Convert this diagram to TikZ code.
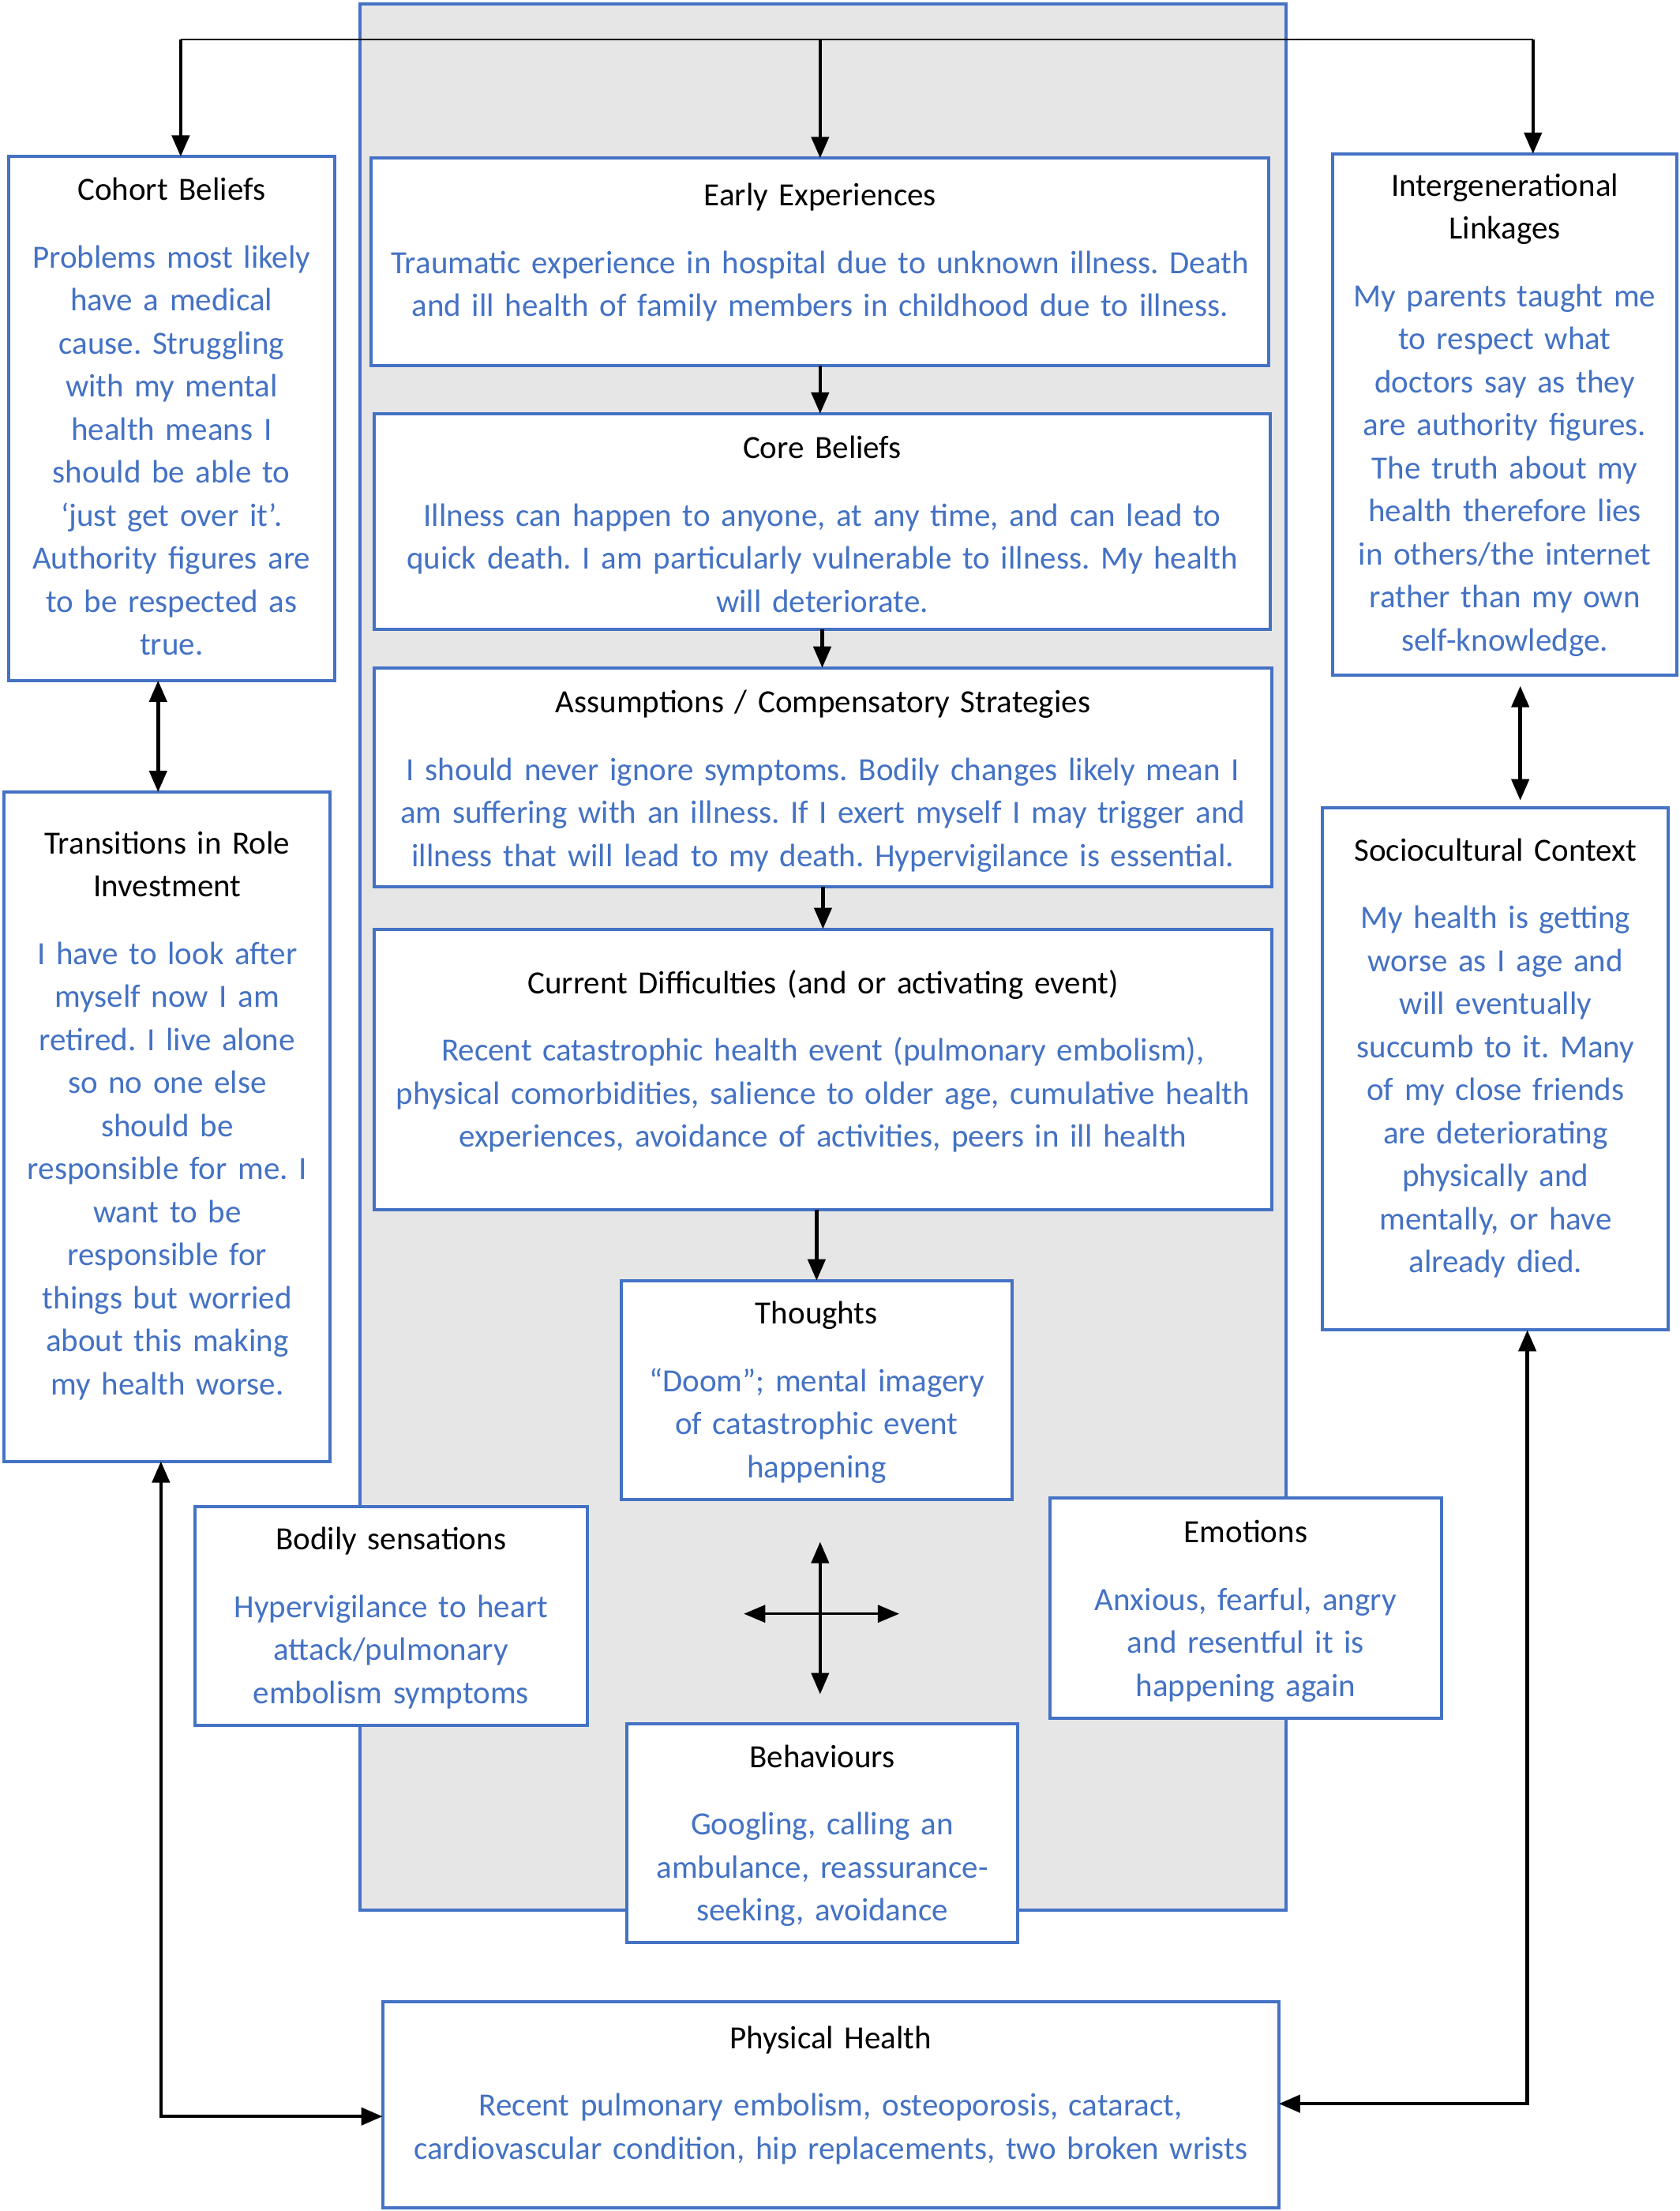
\documentclass[tikz,border=0pt]{standalone}
\usepackage{fontspec}
\setmainfont{Carlito}
\usetikzlibrary{arrows.meta,calc}
\definecolor{bblue}{HTML}{4472C4}
\definecolor{tblue}{HTML}{4472C4}
\definecolor{pgray}{HTML}{E7E6E6}
\newcommand\cbtbox[5]{\node[box, minimum width=#4*1.788pt, minimum height=#5*1.788pt] (#1) at (#2,#3) {};}
\frenchspacing
\begin{document}
\begin{tikzpicture}[x=1.788pt,y=-1.788pt, font=\fontsize{41}{54.5}\selectfont\frenchspacing,
  box/.style={draw=bblue, line width=4pt, fill=white, rectangle, inner sep=0pt, outer sep=0pt, anchor=north west},
  panel/.style={draw=bblue, line width=4pt, fill=pgray, rectangle, inner sep=0pt, outer sep=0pt, anchor=north west},
  txt/.style={anchor=north, yshift=35pt, inner sep=0pt, outer sep=0pt, align=center},
  tip/.tip={Triangle[length=27pt,width=22pt]},
  arr/.style={line width=4.5pt, -tip},
  darr/.style={line width=4.5pt, tip-tip},
  thinline/.style={line width=2.2pt}
  ]
\useasboundingbox (0,0) rectangle (1190.16,1566);
% grey panel
\node[panel, minimum width=656*1.788pt, minimum height=1350*1.788pt] (panel) at (255,3) {};
% boxes
\cbtbox{cohort}{6}{111}{231}{371}
\cbtbox{early}{263}{112}{636}{147}
\cbtbox{inter}{944}{109}{244}{369}
\cbtbox{core}{265}{293}{635}{153}
\cbtbox{assump}{265}{473}{636}{155}
\cbtbox{trans}{3}{561}{231}{474}
\cbtbox{socio}{937}{572}{245}{370}
\cbtbox{current}{265}{658}{636}{199}
\cbtbox{thoughts}{440}{907}{277}{155}
\cbtbox{bodily}{138}{1067}{278}{155}
\cbtbox{emotions}{744}{1061}{277}{156}
\cbtbox{behav}{444}{1221}{277}{155}
\cbtbox{phys}{271}{1418}{635}{146}
% texts
\node[txt, text width=225*1.788pt] (cohort-t) at (121.5,139) {\rule{0pt}{40pt}Cohort Beliefs\\[31pt]\color{tblue}Problems most likely\\have a medical\\cause. Struggling\\with my mental\\health means I\\should be able to\\‘just get over it’.\\Authority figures are\\to be respected as\\true.};
\node[txt, text width=630*1.788pt] (early-t) at (581,143) {\rule{0pt}{40pt}Early Experiences\\[31pt]\color{tblue}Traumatic experience in hospital due to unknown illness. Death\\and ill health of family members in childhood due to illness.};
\node[txt, text width=238*1.788pt] (inter-t) at (1066,136) {\rule{0pt}{40pt}Intergenerational\\Linkages\\[31pt]\color{tblue}My parents taught me\\to respect what\\doctors say as they\\are authority figures.\\The truth about my\\health therefore lies\\in others/the internet\\rather than my own\\self-knowledge.};
\node[txt, text width=630*1.788pt] (core-t) at (582.5,322) {\rule{0pt}{40pt}Core Beliefs\\[31pt]\color{tblue}Illness can happen to anyone, at any time, and can lead to\\quick death. I am particularly vulnerable to illness. My health\\will deteriorate.};
\node[txt, text width=630*1.788pt] (assump-t) at (583,502) {\rule{0pt}{40pt}Assumptions / Compensatory Strategies\\[31pt]\color{tblue}I should never ignore symptoms. Bodily changes likely mean I\\am suffering with an illness. If I exert myself I may trigger and\\illness that will lead to my death. Hypervigilance is essential.};
\node[txt, text width=225*1.788pt] (trans-t) at (118.5,602) {\rule{0pt}{40pt}Transitions in Role\\Investment\\[31pt]\color{tblue}I have to look after\\myself now I am\\retired. I live alone\\so no one else\\should be\\responsible for me. I\\want to be\\responsible for\\things but worried\\about this making\\my health worse.};
\node[txt, text width=239*1.788pt] (socio-t) at (1059.5,607) {\rule{0pt}{40pt}Sociocultural Context\\[31pt]\color{tblue}My health is getting\\worse as I age and\\will eventually\\succumb to it. Many\\of my close friends\\are deteriorating\\physically and\\mentally, or have\\already died.};
\node[txt, text width=630*1.788pt] (current-t) at (583,701) {\rule{0pt}{40pt}Current Difficulties (and or activating event)\\[31pt]\color{tblue}Recent catastrophic health event (pulmonary embolism),\\physical comorbidities, salience to older age, cumulative health\\experiences, avoidance of activities, peers in ill health};
\node[txt, text width=271*1.788pt] (thoughts-t) at (578.5,935) {\rule{0pt}{40pt}Thoughts\\[31pt]\color{tblue}“Doom”; mental imagery\\of catastrophic event\\happening};
\node[txt, text width=272*1.788pt] (bodily-t) at (277,1095) {\rule{0pt}{40pt}Bodily sensations\\[31pt]\color{tblue}Hypervigilance to heart\\attack/pulmonary\\embolism symptoms};
\node[txt, text width=271*1.788pt] (emotions-t) at (882.5,1090) {\rule{0pt}{40pt}Emotions\\[31pt]\color{tblue}Anxious, fearful, angry\\and resentful it is\\happening again};
\node[txt, text width=271*1.788pt] (behav-t) at (582.5,1249) {\rule{0pt}{40pt}Behaviours\\[31pt]\color{tblue}Googling, calling an\\ambulance, reassurance-\\seeking, avoidance};
\node[txt, text width=629*1.788pt] (phys-t) at (588.5,1448) {\rule{0pt}{40pt}Physical Health\\[31pt]\color{tblue}Recent pulmonary embolism, osteoporosis, cataract,\\cardiovascular condition, hip replacements, two broken wrists};
% connectors
\coordinate (tl) at (128,28);
\coordinate (tr) at (1086,28);
\draw[thinline] (tl) -- (tr);
\draw[arr] (tl) -- (tl |- cohort.north);
\draw[arr] (early.north |- tl) -- (early.north);
\draw[arr] (tr) -- (tr |- inter.north);
\draw[arr] (early.south) -- (early.south |- core.north);
\draw[arr] (core.south) -- (core.south |- assump.north);
\draw[arr] (assump.south) -- (assump.south |- current.north);
\draw[arr] (thoughts.north |- current.south) -- (thoughts.north);
\coordinate (lc) at (112,0);
\draw[darr] (cohort.south -| lc) -- (trans.north -| lc);
\coordinate (rc) at (1077,0);
\draw[darr, shorten <=14pt, shorten >=9pt] (inter.south -| rc) -- (socio.north -| rc);
% cross
\coordinate (cx) at (581,1143);
\draw[darr, line width=4pt] ($(cx)+(0,-51)$) -- ($(cx)+(0,57)$);
\draw[darr, line width=3pt] ($(cx)+(-54,0)$) -- ($(cx)+(56,0)$);
% long connectors
\coordinate (lb) at (114,1499);
\draw[darr] (trans.south -| lb) -- (lb) -- (lb -| phys.west);
\coordinate (rb) at (1082,1490);
\draw[darr] (socio.south -| rb) -- (rb) -- (rb -| phys.east);
\end{tikzpicture}
\end{document}
